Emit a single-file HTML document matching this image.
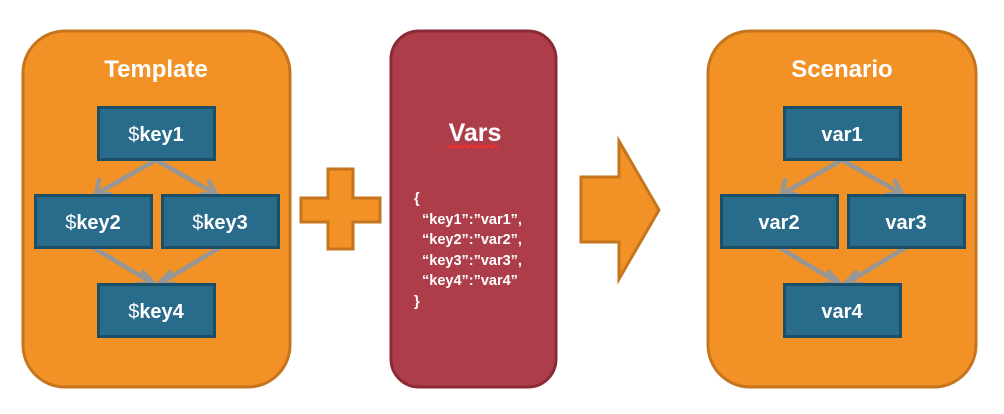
<!DOCTYPE html>
<html><head><meta charset="utf-8"><style>
html,body{margin:0;padding:0;background:#fff;width:1004px;height:414px;overflow:hidden}
text{font-family:"Liberation Sans",sans-serif;font-weight:bold;fill:#fff}
</style></head><body>
<svg width="1004" height="414" viewBox="0 0 1004 414" xmlns="http://www.w3.org/2000/svg">
<defs>
<g id="tree">
 <g stroke="#969696" stroke-width="4.5" fill="none" stroke-linecap="round" stroke-linejoin="round">
  <line x1="156" y1="160" x2="96" y2="194"/>
  <polyline points="99,180 96,194 110,194"/>
  <line x1="156" y1="160" x2="216" y2="194"/>
  <polyline points="209,181 216,194 202,194"/>
  <line x1="94" y1="248" x2="154" y2="284"/>
  <polyline points="143,272 154,284 138,284"/>
  <line x1="219" y1="248" x2="159" y2="284"/>
  <polyline points="170,272 159,284 175,284"/>
 </g>
 <g fill="#286b8b" stroke="#1b4f68" stroke-width="3">
  <rect x="98.5" y="107.5" width="116" height="52"/>
  <rect x="35.5" y="195.5" width="116" height="52"/>
  <rect x="162.5" y="195.5" width="116" height="52"/>
  <rect x="98.5" y="284.5" width="116" height="52"/>
 </g>
</g>
</defs>
<rect x="23" y="31" width="267" height="356" rx="42" fill="#f29226" stroke="#c5751e" stroke-width="3"/>
<text x="156" y="77" font-size="24" text-anchor="middle">Template</text>
<use href="#tree"/>
<g font-size="20" text-anchor="middle">
<text x="156" y="141"><tspan font-weight="normal">$</tspan>key1</text>
<text x="93" y="229"><tspan font-weight="normal">$</tspan>key2</text>
<text x="220" y="229"><tspan font-weight="normal">$</tspan>key3</text>
<text x="156" y="318"><tspan font-weight="normal">$</tspan>key4</text>
</g>
<polygon points="328,169 353,169 353,198 380,198 380,222 353,222 353,249 328,249 328,222 301,222 301,198 328,198" fill="#f29226" stroke="#c5751e" stroke-width="3"/>
<rect x="391" y="31" width="165" height="356" rx="28" fill="#ae3d4a" stroke="#8a2a36" stroke-width="3"/>
<text x="475" y="141" font-size="25" text-anchor="middle">Vars</text>
<path d="M447 145 l3 3 l3 -3 l3 3 l3 -3 l3 3 l3 -3 l3 3 l3 -3 l3 3 l3 -3 l3 3 l3 -3 l3 3 l3 -3 l3 3 l3 -3 l3 3" stroke="#ff2a2a" stroke-width="1.5" fill="none"/>
<g font-size="14.5">
<text x="414" y="203">{</text>
<text x="422" y="224">“key1”:”var1”,</text>
<text x="422" y="244">“key2”:”var2”,</text>
<text x="422" y="265">“key3”:”var3”,</text>
<text x="422" y="285">“key4”:”var4”</text>
<text x="414" y="306">}</text>
</g>
<polygon points="581,177 619,177 619,141 659,210 619,279 619,242 581,242" fill="#f29226" stroke="#c5751e" stroke-width="3"/>
<rect x="708" y="31" width="268" height="356" rx="42" fill="#f29226" stroke="#c5751e" stroke-width="3"/>
<text x="842" y="77" font-size="24" text-anchor="middle">Scenario</text>
<use href="#tree" transform="translate(686,0)"/>
<g font-size="20" text-anchor="middle">
<text x="842" y="141">var1</text>
<text x="779" y="229">var2</text>
<text x="906" y="229">var3</text>
<text x="842" y="318">var4</text>
</g>
</svg>
</body></html>
